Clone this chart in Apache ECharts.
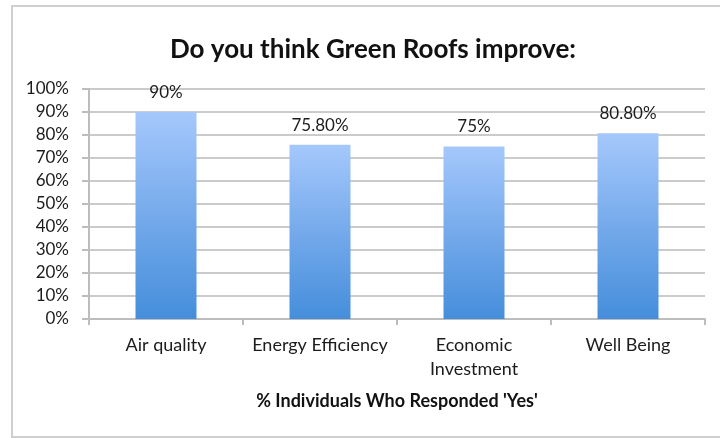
<!DOCTYPE html>
<html>
<head>
<meta charset="utf-8">
<title>Do you think Green Roofs improve:</title>
<script src="https://cdn.jsdelivr.net/npm/echarts@6/dist/echarts.min.js"></script>
<style>
  html, body { margin: 0; padding: 0; background: #ffffff; }
  #chart { width: 720px; height: 438px; }
</style>
</head>
<body>
<div id="chart"></div>
<script>
// Survey benefit categories and share of respondents answering "Yes"
const categories = ['Air quality', 'Energy Efficiency', 'Economic\nInvestment', 'Well Being'];
const yesPercent = [90, 75.8, 75, 80.8];
const valueLabels = ['90%', '75.80%', '75%', '80.80%'];

const FONT = 'Lato, "Open Sans", "DejaVu Sans", sans-serif';
const TEXT = '#1c1c1c';
const chart = echarts.init(document.getElementById('chart'), null, { renderer: 'canvas' });

chart.setOption({
  backgroundColor: '#ffffff',
  animation: false,
  graphic: [{
    type: 'rect',
    silent: true,
    shape: { x: 12, y: 6, width: 760, height: 431 },
    style: { fill: 'none', stroke: '#cfcfcf', lineWidth: 2 }
  }],
  title: {
    text: 'Do you think Green Roofs improve:',
    left: 368,
    top: 30,
    textAlign: 'center',
    textStyle: { fontFamily: FONT, fontWeight: 'bold', fontSize: 26, lineHeight: 30, color: '#111111' }
  },
  grid: { left: 89, right: 15, top: 89, bottom: 119, containLabel: false },
  xAxis: {
    type: 'category',
    data: categories,
    name: "% Individuals Who Responded 'Yes'",
    nameLocation: 'middle',
    nameGap: 72,
    nameTextStyle: { fontFamily: FONT, fontWeight: 'bold', fontSize: 18, color: '#111111', lineHeight: 20 },
    axisLine: { lineStyle: { color: '#bdbdbd', width: 2 } },
    axisTick: { show: true, length: 6, lineStyle: { color: '#bdbdbd', width: 2 } },
    axisLabel: { fontFamily: FONT, fontSize: 18, color: TEXT, margin: 14, lineHeight: 24, interval: 0 }
  },
  yAxis: {
    type: 'value',
    min: 0,
    max: 100,
    interval: 10,
    axisLine: { show: true, lineStyle: { color: '#bdbdbd', width: 2 } },
    axisTick: { show: true, length: 7, lineStyle: { color: '#bdbdbd', width: 2 } },
    axisLabel: { fontFamily: FONT, fontSize: 17, color: TEXT, margin: 20, formatter: '{value}%' },
    splitLine: { show: true, lineStyle: { color: '#cbcbcb', width: 2 } }
  },
  series: [{
    type: 'bar',
    data: yesPercent,
    barWidth: 61,
    itemStyle: {
      color: new echarts.graphic.LinearGradient(0, 0, 0, 1, [
        { offset: 0, color: '#a5c8fc' },
        { offset: 0.5, color: '#75aaeb' },
        { offset: 1, color: '#458edb' }
      ])
    },
    label: {
      show: true,
      position: 'top',
      distance: 11,
      fontFamily: FONT,
      fontSize: 17,
      color: TEXT,
      formatter: p => valueLabels[p.dataIndex]
    }
  }]
});
</script>
</body>
</html>
